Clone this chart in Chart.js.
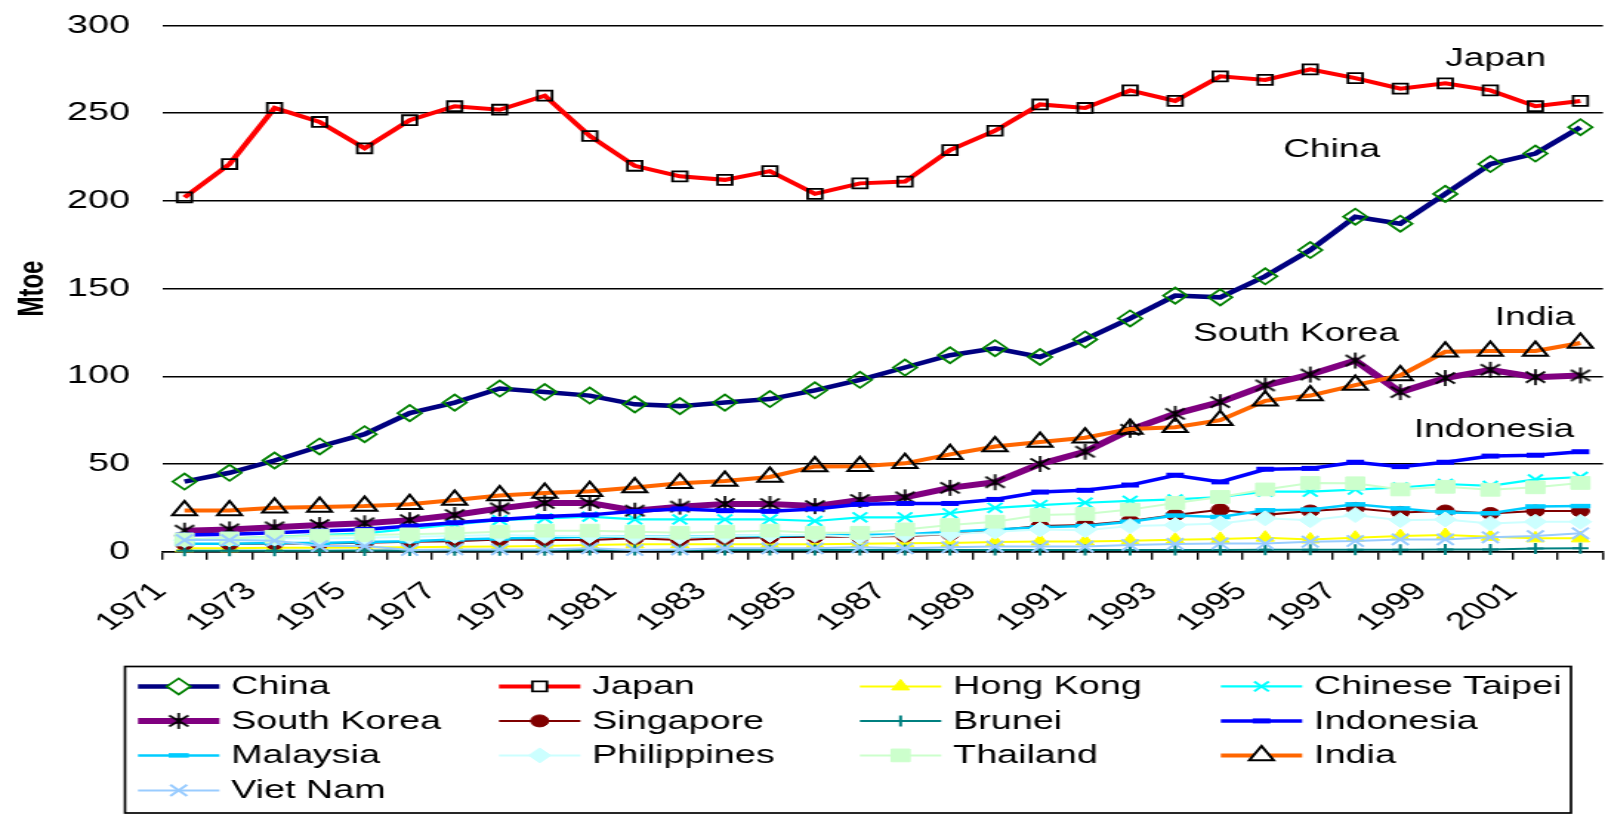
<!DOCTYPE html>
<html>
<head>
<meta charset="utf-8">
<title>Primary energy supply, Asia, 1971-2002</title>
<script src="https://cdn.jsdelivr.net/npm/chart.js@4.4.1/dist/chart.umd.min.js"></script>
<style>
  html, body { margin: 0; padding: 0; background: #ffffff; overflow: hidden; }
</style>
</head>
<body>
<!-- the drawing surface is rendered narrow and widened horizontally -->
<canvas id="chart" width="1085" height="815" style="display:block;width:1605px;height:815px"></canvas>
<script>
// ---- data (Mtoe) ----
const years = ['1971','1972','1973','1974','1975','1976','1977','1978','1979','1980',
               '1981','1982','1983','1984','1985','1986','1987','1988','1989','1990',
               '1991','1992','1993','1994','1995','1996','1997','1998','1999','2000',
               '2001','2002'];

const china         = [40,45,52,60,67,79,85,93,91,89,84,83,85,87,92,98,105,112,116,111,121,133,146,145,157,172,191,187,204,221,227,242];
const japan         = [202,221,253,245,230,246,254,252,260,237,220,214,212,217,204,210,211,229,240,255,253,263,257,271,269,275,270,264,267,263,254,257];
const hongKong      = [2,2,2.2,2.3,2.4,2.6,2.8,3,3.3,3.8,4.2,4.3,4.3,4.3,4.3,4.5,4.8,5,5.5,5.8,5.8,6.3,6.8,7.3,8,7,8,8.9,9.5,8.5,7.6,7.6];
const chineseTaipei = [7,7.5,8.5,9.5,10.5,13,15.5,18,19,20,18.4,18.4,18.4,18.4,17.5,19.6,19.6,21.9,25,26.6,27.9,29,29.8,31.2,34.2,34.2,35.4,36.6,38.6,37.5,41.2,42.6];
const southKorea    = [12,12.7,13.9,15.2,16.2,18,20.9,24.7,27.8,27.8,23.4,25.7,27.2,27.2,26,29.5,31,36.4,39.6,50,57,69.5,78.6,85.3,94.8,101,109,91,99,103.7,99.5,100.5];
const singapore     = [4.4,4.4,4.7,4.7,5.1,5.7,6,7,6.7,6.7,7.6,6.7,7.6,8.2,8.5,8.5,8.9,10,12.3,14.6,15.2,17.5,20.9,23.9,21,23.2,24.7,22.4,23.2,21.8,23.2,23.2];
const brunei        = [0.5,0.5,0.6,0.6,0.7,0.7,0.8,0.8,0.8,0.9,0.9,0.9,1,1,1,1,1,1,1,1,1,1,1,1,1.1,1.1,1.1,1.1,1.2,1.2,1.8,2];
const indonesia     = [9.5,10,10.8,11.8,12.7,14.6,16.5,18.4,20,21,23,24.4,23.4,23,24.4,27,27.5,27.5,29.8,34,35,38,43.6,39.8,47,47.5,51,48.5,51,54.5,55,57];
const malaysia      = [4.5,4.5,5,5,5.5,6,7,7.5,8,8.5,8.5,8.5,9,9,9.5,9.5,10,11.4,12.7,13.9,14.6,17.1,20.6,19.8,23.6,24,27,24.7,22.4,21.9,25.8,26];
const philippines   = [6.5,7,7.5,7.5,8,8.5,9,9.5,9,9,8.5,8.5,9,9.5,9.5,8.5,9.5,10,11.4,12.7,12.3,14.6,15.2,16.1,19,18,20.9,18,18.4,16.1,17.1,17.1];
const thailand      = [7,7.6,8.5,9.1,9.5,9.9,10.5,11.4,12,12,11.4,10.8,11.4,12,10.8,10.8,12.7,15.2,17.1,20.9,21.5,24,27.8,31.2,35.5,39.2,39,35.5,37,35.3,36.7,39.2];
const india         = [23.5,23.5,25,25.5,26,27,29.5,32,33.5,34.5,36.6,39,40.3,42.6,48.6,48.7,50.4,55.5,60,62.5,65,70,71,75,86,89,95,100.5,114,114.4,114.4,119];
const vietNam       = [6.6,6.6,6.3,3.2,3.2,1,1.3,1.3,1.3,1.9,1,1.3,1.9,1.9,1.9,2.5,1.9,2.5,2.9,2.9,2.9,3.8,4.4,4.7,4.7,5.7,6.1,7,7,8.2,8.9,10.5];

const seriesNames  = ['China','Japan','Hong Kong','Chinese Taipei','South Korea','Singapore',
                      'Brunei','Indonesia','Malaysia','Philippines','Thailand','India','Viet Nam'];
const seriesValues = [china, japan, hongKong, chineseTaipei, southKorea, singapore,
                      brunei, indonesia, malaysia, philippines, thailand, india, vietNam];

// ---- styles ----
const FONT = "'Liberation Sans', Arial, Helvetica, sans-serif";
const NONE = 'rgba(0,0,0,0)';

function asteriskMarker() {
  const c = document.createElement('canvas');
  c.width = 18; c.height = 20;
  const g = c.getContext('2d');
  g.strokeStyle = '#000000';
  g.lineWidth = 1.7;
  g.beginPath();
  g.moveTo(9, 2);     g.lineTo(9, 18);
  g.moveTo(2.5, 4.5); g.lineTo(15.5, 15.5);
  g.moveTo(2.5, 15.5); g.lineTo(15.5, 4.5);
  g.stroke();
  return c;
}
const ASTERISK = asteriskMarker();

const seriesStyles = {
  'China':          { line: '#000080', width: 4.5, marker: 'rectRot',  r: 8,   stroke: '#008000', fill: NONE,      mw: 1.8 },
  'Japan':          { line: '#FF0000', width: 4,   marker: 'rect',     r: 7,   stroke: '#000000', fill: NONE,      mw: 1.8 },
  'Hong Kong':      { line: '#FFFF00', width: 2,   marker: 'triangle', r: 7,   stroke: '#FFFF00', fill: '#FFFF00', mw: 1 },
  'Chinese Taipei': { line: '#00FFFF', width: 2.2, marker: 'crossRot', r: 7,   stroke: '#00FFFF', fill: '#00FFFF', mw: 2 },
  'South Korea':    { line: '#800080', width: 6,   marker: ASTERISK,   r: 8,   stroke: '#000000', fill: '#000000', mw: 1 },
  'Singapore':      { line: '#800000', width: 2,   marker: 'circle',   r: 6,   stroke: '#800000', fill: '#800000', mw: 1 },
  'Brunei':         { line: '#008080', width: 2,   marker: 'cross',    r: 5.5, stroke: '#008080', fill: '#008080', mw: 2 },
  'Indonesia':      { line: '#0000FF', width: 3.5, marker: 'line',     r: 6,   stroke: '#0000FF', fill: '#0000FF', mw: 5 },
  'Malaysia':       { line: '#00CCFF', width: 2.5, marker: 'line',     r: 6.8, stroke: '#00CCFF', fill: '#00CCFF', mw: 4.5 },
  'Philippines':    { line: '#CCFFFF', width: 2,   marker: 'rectRot',  r: 7.5, stroke: '#CCFFFF', fill: '#CCFFFF', mw: 1 },
  'Thailand':       { line: '#CCFFCC', width: 2,   marker: 'rect',     r: 9,   stroke: '#CCFFCC', fill: '#CCFFCC', mw: 1 },
  'India':          { line: '#FF6600', width: 4,   marker: 'triangle', r: 9.5, stroke: '#000000', fill: NONE,      mw: 2 },
  'Viet Nam':       { line: '#99CCFF', width: 2,   marker: 'crossRot', r: 8,   stroke: '#99CCFF', fill: '#99CCFF', mw: 2 }
};

// ---- in-plot series names, anchored in data space ----
const seriesNotes = [
  { text: 'Japan',       at: 28.0, value: 277 },
  { text: 'China',       at: 24.4, value: 225 },
  { text: 'South Korea', at: 22.4, value: 120.3 },
  { text: 'India',       at: 29.1, value: 129.2 },
  { text: 'Indonesia',   at: 27.3, value: 65.6 }
];

// ---- legend box geometry (canvas units) ----
const legendBox = { left: 84.5, top: 666.5, right: 1062, bottom: 813,
                    cols: [93.3, 337.3, 581.3, 825.3], rows: [686.4, 720.9, 755.4, 790.4],
                    sample: 55, textGap: 63 };

// series are stacked like a spreadsheet chart: later series on top
const datasets = seriesNames.map((name, i) => {
  const s = seriesStyles[name];
  return {
    label: name,
    data: seriesValues[i],
    borderColor: s.line,
    backgroundColor: s.line,
    borderWidth: s.width,
    pointStyle: s.marker,
    pointRadius: s.r,
    pointHoverRadius: s.r,
    pointBorderColor: s.stroke,
    pointBackgroundColor: s.fill,
    pointBorderWidth: s.mw,
    fill: false,
    tension: 0,
    clip: false,
    order: seriesNames.length - i
  };
});

function drawMarker(ctx, style, r, x, y) {
  if (typeof style !== 'string') {
    ctx.drawImage(style, x - style.width / 2, y - style.height / 2);
    return;
  }
  ctx.beginPath();
  if (style === 'rectRot') {
    ctx.moveTo(x - r, y); ctx.lineTo(x, y - r); ctx.lineTo(x + r, y); ctx.lineTo(x, y + r); ctx.closePath();
  } else if (style === 'rect') {
    const h = r * Math.SQRT1_2; ctx.rect(x - h, y - h, 2 * h, 2 * h);
  } else if (style === 'triangle') {
    ctx.moveTo(x, y - r);
    ctx.lineTo(x + r * Math.sin(2 * Math.PI / 3), y - r * Math.cos(2 * Math.PI / 3));
    ctx.lineTo(x + r * Math.sin(4 * Math.PI / 3), y - r * Math.cos(4 * Math.PI / 3));
    ctx.closePath();
  } else if (style === 'circle') {
    ctx.arc(x, y, r, 0, Math.PI * 2);
  } else if (style === 'crossRot') {
    const d = r * Math.SQRT1_2;
    ctx.moveTo(x - d, y - d); ctx.lineTo(x + d, y + d);
    ctx.moveTo(x - d, y + d); ctx.lineTo(x + d, y - d);
  } else if (style === 'cross') {
    ctx.moveTo(x, y - r); ctx.lineTo(x, y + r);
    ctx.moveTo(x - r, y); ctx.lineTo(x + r, y);
  } else if (style === 'line') {
    ctx.moveTo(x - r, y); ctx.lineTo(x + r, y);
  }
  if (style !== 'crossRot' && style !== 'cross' && style !== 'line') ctx.fill();
  ctx.stroke();
}

const boxedLegend = {
  id: 'boxedLegend',
  afterDraw(chart) {
    const ctx = chart.ctx;
    const L = legendBox;
    ctx.save();
    ctx.lineWidth = 1.7;
    ctx.strokeStyle = '#000000';
    ctx.strokeRect(L.left, L.top, L.right - L.left, L.bottom - L.top);
    ctx.font = '25.5px ' + FONT;
    ctx.textBaseline = 'middle';
    ctx.textAlign = 'left';
    chart.data.datasets.forEach((ds, k) => {
      const x0 = L.cols[k % 4];
      const y = L.rows[Math.floor(k / 4)];
      ctx.lineWidth = ds.borderWidth;
      ctx.strokeStyle = ds.borderColor;
      ctx.lineCap = 'butt';
      ctx.beginPath();
      ctx.moveTo(x0, y); ctx.lineTo(x0 + L.sample, y);
      ctx.stroke();
      ctx.fillStyle = ds.pointBackgroundColor === NONE ? '#ffffff' : ds.pointBackgroundColor;
      ctx.strokeStyle = ds.pointBorderColor;
      ctx.lineWidth = ds.pointBorderWidth;
      drawMarker(ctx, ds.pointStyle, ds.pointRadius, x0 + L.sample / 2, y);
      ctx.fillStyle = '#000000';
      ctx.fillText(ds.label, x0 + L.textGap, y + 1);
    });
    ctx.restore();
  }
};

const seriesLabels = {
  id: 'seriesLabels',
  afterDatasetsDraw(chart) {
    const ctx = chart.ctx;
    const xs = chart.scales.x, ys = chart.scales.y;
    ctx.save();
    ctx.font = '25px ' + FONT;
    ctx.fillStyle = '#000000';
    ctx.textAlign = 'left';
    ctx.textBaseline = 'alphabetic';
    seriesNotes.forEach(n => {
      ctx.fillText(n.text, xs.getPixelForValue(n.at), ys.getPixelForValue(n.value));
    });
    ctx.restore();
  }
};

new Chart(document.getElementById('chart'), {
  type: 'line',
  data: { labels: years, datasets: datasets },
  plugins: [seriesLabels, boxedLegend],
  options: {
    responsive: false,
    animation: false,
    devicePixelRatio: 1,
    layout: { autoPadding: false, padding: { left: 0, right: 1.4, top: 25.5, bottom: 0 } },
    plugins: { legend: { display: false }, tooltip: { enabled: false } },
    scales: {
      x: {
        type: 'category',
        offset: true,
        grid: { display: true, offset: true, drawOnChartArea: false, drawTicks: true,
                tickLength: 8, color: '#000000', lineWidth: 1.4 },
        border: { display: true, color: '#000000', width: 1.6 },
        ticks: {
          autoSkip: false, minRotation: 45, maxRotation: 45, padding: 17, labelOffset: -16,
          color: '#000000', font: { family: FONT, size: 25 },
          callback: (v, i) => (i % 2 === 0 ? years[i] : '')
        },
        afterFit(scale) { scale.height = 815 - 551.7; scale.paddingLeft = 0; scale.paddingRight = 0; }
      },
      y: {
        min: 0, max: 300,
        grid: { color: '#000000', lineWidth: 1.6, drawTicks: false },
        border: { display: false },
        ticks: { stepSize: 50, padding: 21.6, color: '#000000', font: { family: FONT, size: 25.5 } },
        title: { display: true, text: 'Mtoe', color: '#000000',
                 font: { family: FONT, size: 24, weight: 'bold' }, padding: { top: 8, bottom: 4 } },
        afterFit(scale) { scale.width = 109.5; scale.paddingTop = 0; scale.paddingBottom = 0; }
      }
    }
  }
});
</script>
</body>
</html>
